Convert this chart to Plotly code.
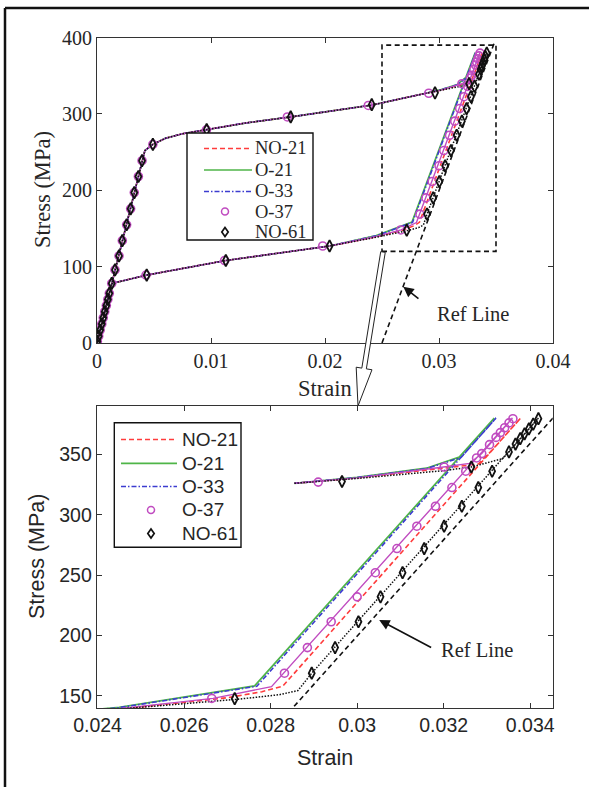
import plotly.graph_objects as go
import math

W, H = 589, 787

# ---------------- data ----------------
SERIES = ["NO-21", "O-21", "O-33", "O-37", "NO-61"]

# shared loading branch (elastic + upper plateau)
LOAD_COMMON_S = [0, 0.0042, 0.0049, 0.0060, 0.0075, 0.0096, 0.0130, 0.0170, 0.0205, 0.0241, 0.02855]
LOAD_COMMON_Y = [0, 252, 260, 268, 274, 279.3, 288, 296, 304, 311.5, 326]
# shared unloading tail (lower plateau + elastic return)
UNLOAD_COMMON_S = [0.0204, 0.0113, 0.0044, 0.0013, 0]
UNLOAD_COMMON_Y = [127, 108, 89, 78, 0]

NO21_LOAD_S = [0.0300, 0.0320, 0.0328, 0.03308, 0.03378]
NO21_LOAD_Y = [330.5, 338.5, 342, 352, 380]
NO21_UNLOAD_S = [0.03378, 0.02828, 0.0278, 0.0270, 0.0245]
NO21_UNLOAD_Y = [380, 158, 153.5, 148.5, 139]

O21_LOAD_S = [0.0300, 0.0316, 0.03236, 0.03317]
O21_LOAD_Y = [331, 338.5, 347.8, 380]
O21_UNLOAD_S = [0.03317, 0.02763, 0.0245]
O21_UNLOAD_Y = [380, 158.3, 140.6]

O33_LOAD_S = [0.0300, 0.0316, 0.03240, 0.03321]
O33_LOAD_Y = [330.8, 338.2, 347.3, 380]
O33_UNLOAD_S = [0.03321, 0.02768, 0.0245]
O33_UNLOAD_Y = [380, 158, 140.3]

O37_LOAD_S = [0.0300, 0.0320, 0.0326, 0.03288, 0.03359]
O37_LOAD_Y = [330.5, 339.5, 342.5, 350.6, 380]
O37_UNLOAD_S = [0.03359, 0.02802, 0.02667, 0.0245]
O37_UNLOAD_Y = [380, 157.7, 148, 139.5]

NO61_LOAD_S = [0.0300, 0.0320, 0.03264, 0.03336, 0.03351, 0.03419]
NO61_LOAD_Y = [330, 336.5, 339.5, 346.4, 352, 380]
NO61_UNLOAD_S = [0.03419, 0.02895, 0.02863, 0.0282, 0.02726, 0.0245]
NO61_UNLOAD_Y = [380, 168.8, 154.4, 151, 147.3, 138.5]

# marker positions
MK_ELASTIC_S = [0.00003, 0.00015, 0.00028, 0.00042, 0.00055, 0.00068, 0.00082, 0.00095, 0.00108,
                0.00129, 0.00158, 0.00193, 0.00222, 0.0026, 0.00295, 0.00327, 0.00363, 0.00395]
MK_ELASTIC_Y = [2, 9, 17, 25, 33, 41, 49, 57, 65, 78, 95.7, 114, 134, 154.8, 175.7, 197, 218, 238.7]

O37_MK_LOAD_S = [0.0049, 0.0096, 0.0167, 0.0238, 0.0291, 0.03201]
O37_MK_LOAD_Y = [260, 279, 296, 311, 327, 339.5]
O37_MK_UNLOAD_S = [0.03360, 0.03351, 0.03341, 0.03331, 0.03321, 0.03306, 0.03288, 0.03276, 0.03251,
                   0.03219, 0.03181, 0.03138, 0.03092, 0.03042, 0.0300, 0.0294, 0.02885, 0.02832,
                   0.02664, 0.0198, 0.0112, 0.0043]
O37_MK_UNLOAD_Y = [379.5, 376, 372, 368, 364, 358, 350.6, 347, 336, 322.5, 307, 290.5, 272, 252,
                   232, 211.4, 190, 168.8, 148, 127, 108, 89]

NO61_MK_LOAD_S = [0.0049, 0.00962, 0.01699, 0.0241, 0.02965, 0.03264]
NO61_MK_LOAD_Y = [260, 279.3, 296, 312, 327.5, 339.5]
NO61_MK_UNLOAD_S = [0.03419, 0.03407, 0.03397, 0.03387, 0.03377, 0.03366, 0.03351, 0.03312, 0.03280,
                    0.03242, 0.03201, 0.03155, 0.03105, 0.03054, 0.03003, 0.02949, 0.02895, 0.02717,
                    0.0204, 0.0113, 0.00436]
NO61_MK_UNLOAD_Y = [379.5, 375, 371, 367, 363, 358.5, 352, 336, 322.5, 307, 290.5, 272, 252, 232,
                    211.4, 190, 168.8, 147.7, 127, 108, 89]

REF_S = [0.025, 0.03485]
REF_Y = [0, 393]

ZOOM_BOX_S = [0.025, 0.035]
ZOOM_BOX_Y = [120, 390]
ZOOM_LOAD_FROM = 0.02855   # zoomed panel shows the loading branch only from here

TOP_XTICKS = [0, 0.01, 0.02, 0.03, 0.04]
TOP_XTICKTEXT = ["0", "0.01", "0.02", "0.03", "0.04"]
TOP_YTICKS = [0, 100, 200, 300, 400]
BOT_XTICKS = [0.024, 0.026, 0.028, 0.030, 0.032, 0.034]
BOT_XTICKTEXT = ["0.024", "0.026", "0.028", "0.03", "0.032", "0.034"]
BOT_YTICKS = [150, 200, 250, 300, 350]

# ---------------- styling ----------------
STYLE = {
    "NO-21": dict(color="#ff3c3c", dash="5px,3px", width=1.6),
    "O-21": dict(color="#4fb548", dash="solid", width=1.7),
    "O-33": dict(color="#3c3cd0", dash="5px,2px,1.5px,2px", width=1.6),
    "O-37": dict(color="#c04cc0", dash="solid", width=1.4),
    "NO-61": dict(color="#111111", dash="1.5px,1.5px", width=1.5),
}
PARTS = {
    "NO-21": (NO21_LOAD_S, NO21_LOAD_Y, NO21_UNLOAD_S, NO21_UNLOAD_Y),
    "O-21": (O21_LOAD_S, O21_LOAD_Y, O21_UNLOAD_S, O21_UNLOAD_Y),
    "O-33": (O33_LOAD_S, O33_LOAD_Y, O33_UNLOAD_S, O33_UNLOAD_Y),
    "O-37": (O37_LOAD_S, O37_LOAD_Y, O37_UNLOAD_S, O37_UNLOAD_Y),
    "NO-61": (NO61_LOAD_S, NO61_LOAD_Y, NO61_UNLOAD_S, NO61_UNLOAD_Y),
}
MARKERS = {
    "O-37": (MK_ELASTIC_S + O37_MK_LOAD_S, MK_ELASTIC_Y + O37_MK_LOAD_Y, O37_MK_UNLOAD_S, O37_MK_UNLOAD_Y,
             dict(symbol="circle-open", size=8, color="#c04cc0", line=dict(width=1.6, color="#c04cc0"))),
    "NO-61": (MK_ELASTIC_S + NO61_MK_LOAD_S, MK_ELASTIC_Y + NO61_MK_LOAD_Y, NO61_MK_UNLOAD_S, NO61_MK_UNLOAD_Y,
              dict(symbol="diamond-tall-open", size=8.5, color="#111111", line=dict(width=1.8, color="#111111"))),
}

SERIF = "Liberation Serif, Times New Roman, serif"
SANS = "Liberation Sans, Arial, sans-serif"
TXT = "#262626"


def px(x):
    return x / W


def py(y):
    return 1 - y / H


fig = go.Figure()

for name in SERIES:
    ls, ly, us, uy = PARTS[name]
    st = STYLE[name]
    line = dict(color=st["color"], dash=st["dash"], width=st["width"])
    # top panel: full loop
    xs = LOAD_COMMON_S + ls + us + UNLOAD_COMMON_S
    ys = LOAD_COMMON_Y + ly + uy + UNLOAD_COMMON_Y
    fig.add_trace(go.Scatter(x=xs, y=ys, mode="lines", line=line, xaxis="x", yaxis="y",
                             name=name, showlegend=False, hoverinfo="skip"))
    # zoomed panel: loading branch truncated
    ld = [(s, y) for s, y in zip(LOAD_COMMON_S + ls, LOAD_COMMON_Y + ly) if s >= ZOOM_LOAD_FROM]
    xs2 = [p[0] for p in ld] + us + UNLOAD_COMMON_S
    ys2 = [p[1] for p in ld] + uy + UNLOAD_COMMON_Y
    fig.add_trace(go.Scatter(x=xs2, y=ys2, mode="lines", line=line, xaxis="x2", yaxis="y2",
                             name=name, showlegend=False, hoverinfo="skip"))

for name in ["O-37", "NO-61"]:
    mls, mly, mus, muy, mk = MARKERS[name]
    fig.add_trace(go.Scatter(x=mls + mus, y=mly + muy, mode="markers", marker=mk, xaxis="x", yaxis="y",
                             name=name, showlegend=False, hoverinfo="skip"))
    zl = [(s, y) for s, y in zip(mls, mly) if s >= ZOOM_LOAD_FROM]
    fig.add_trace(go.Scatter(x=[p[0] for p in zl] + mus, y=[p[1] for p in zl] + muy, mode="markers",
                             marker=mk, xaxis="x2", yaxis="y2", name=name, showlegend=False,
                             hoverinfo="skip"))

# reference lines
for xa, ya in [("x", "y"), ("x2", "y2")]:
    fig.add_trace(go.Scatter(x=REF_S, y=REF_Y, mode="lines", xaxis=xa, yaxis=ya,
                             line=dict(color="#111111", dash="5px,3.5px", width=1.6),
                             showlegend=False, hoverinfo="skip"))

shapes = []
annotations = []

# zoom box in top panel
shapes.append(dict(type="rect", xref="x", yref="y", x0=ZOOM_BOX_S[0], x1=ZOOM_BOX_S[1],
                   y0=ZOOM_BOX_Y[0], y1=ZOOM_BOX_Y[1], line=dict(color="#111111", width=1.6, dash="5px,3.5px"),
                   layer="above"))

# hollow arrow from zoom box to lower panel
T = (383.0, 252.0)
P = (358.0, 406.0)
dx, dy = P[0] - T[0], P[1] - T[1]
L = math.hypot(dx, dy)
ux, uy_ = dx / L, dy / L
nx, ny = -uy_, ux
hw, hh, hl = 2.3, 8.0, 38.0
N = (P[0] - ux * hl, P[1] - uy_ * hl)
pts = [
    (T[0] + nx * hw, T[1] + ny * hw),
    (N[0] + nx * hw, N[1] + ny * hw),
    (N[0] + nx * hh, N[1] + ny * hh),
    P,
    (N[0] - nx * hh, N[1] - ny * hh),
    (N[0] - nx * hw, N[1] - ny * hw),
    (T[0] - nx * hw, T[1] - ny * hw),
]
path = "M " + " L ".join(f"{px(a):.5f},{py(b):.5f}" for a, b in pts) + " Z"
shapes.append(dict(type="path", xref="paper", yref="paper", path=path, fillcolor="white",
                   line=dict(color="#222222", width=1), layer="above"))

# outer frame
shapes.append(dict(type="line", xref="paper", yref="paper", x0=px(5), x1=px(5), y0=py(8), y1=py(787),
                   line=dict(color="#111111", width=2.5)))
shapes.append(dict(type="line", xref="paper", yref="paper", x0=px(5), x1=px(589), y0=py(8), y1=py(8),
                   line=dict(color="#111111", width=2.5)))


# manual legends
def legend(box, rows, line_x, mk_x, text_x, font, fsize):
    x0, y0, x1, y1 = box
    shapes.append(dict(type="rect", xref="paper", yref="paper", x0=px(x0), x1=px(x1), y0=py(y1), y1=py(y0),
                       fillcolor="white", line=dict(color="#111111", width=1.4), layer="above"))
    for name, yy in zip(SERIES, rows):
        st = STYLE[name]
        if name in ("O-37", "NO-61"):
            r = 3.5
            if name == "O-37":
                shapes.append(dict(type="circle", xref="paper", yref="paper", x0=px(mk_x - r), x1=px(mk_x + r),
                                   y0=py(yy + r), y1=py(yy - r), line=dict(color=st["color"], width=1.5),
                                   layer="above"))
            else:
                p = [(mk_x, yy - 4.5), (mk_x + 3.2, yy), (mk_x, yy + 4.5), (mk_x - 3.2, yy)]
                d = "M " + " L ".join(f"{px(a):.5f},{py(b):.5f}" for a, b in p) + " Z"
                shapes.append(dict(type="path", xref="paper", yref="paper", path=d,
                                   line=dict(color="#111111", width=1.7), layer="above"))
        else:
            shapes.append(dict(type="line", xref="paper", yref="paper", x0=px(line_x[0]), x1=px(line_x[1]),
                               y0=py(yy), y1=py(yy),
                               line=dict(color=st["color"], width=st["width"], dash=st["dash"]),
                               layer="above"))
        annotations.append(dict(xref="paper", yref="paper", x=px(text_x), y=py(yy), text=name,
                                showarrow=False, xanchor="left", yanchor="middle",
                                font=dict(family=font, size=fsize, color=TXT)))


legend((187, 133, 313, 240), [148.5, 170, 191.5, 211.5, 232], (204, 252), 225, 253, SERIF, 18.5)
legend((114.3, 422.7, 241, 547.3), [439.5, 463.3, 486.5, 510, 533.5], (121, 177), 151, 180, SANS, 19)

# axis titles
annotations += [
    dict(xref="paper", yref="paper", x=px(325), y=py(388), text="Strain", showarrow=False,
         font=dict(family=SERIF, size=22.5, color=TXT), xanchor="center", yanchor="middle"),
    dict(xref="paper", yref="paper", x=px(42), y=py(190), text="Stress (MPa)", showarrow=False, textangle=-90,
         font=dict(family=SERIF, size=22.5, color=TXT), xanchor="center", yanchor="middle"),
    dict(xref="paper", yref="paper", x=px(325), y=py(758), text="Strain", showarrow=False,
         font=dict(family=SANS, size=21.5, color=TXT), xanchor="center", yanchor="middle"),
    dict(xref="paper", yref="paper", x=px(37), y=py(557), text="Stress (MPa)", showarrow=False, textangle=-90,
         font=dict(family=SANS, size=21.5, color=TXT), xanchor="center", yanchor="middle"),
]

# "Ref Line" callouts
annotations += [
    dict(xref="x", yref="y", x=0.02687, y=73.8, axref="x", ayref="y", ax=0.02833, ay=56.4, text="",
         showarrow=True, arrowhead=2, arrowsize=1.3, arrowwidth=1.6, arrowcolor="#111111"),
    dict(xref="x", yref="y", x=0.03294, y=38, text="Ref Line", showarrow=False,
         font=dict(family=SERIF, size=20.5, color=TXT)),
    dict(xref="x2", yref="y2", x=0.03051, y=212.8, axref="x2", ayref="y2", ax=0.031745, ay=189.4, text="",
         showarrow=True, arrowhead=2, arrowsize=1.3, arrowwidth=1.6, arrowcolor="#111111"),
    dict(xref="x2", yref="y2", x=0.032775, y=188, text="Ref Line", showarrow=False,
         font=dict(family=SERIF, size=20.5, color=TXT)),
]

axis_common = dict(showgrid=False, zeroline=False, showline=True, linecolor="#333333", linewidth=1,
                   mirror="ticks", ticks="inside", ticklen=5, tickcolor="#333333", automargin=False)

fig.update_layout(
    template="none",
    width=W, height=H,
    margin=dict(l=0, r=0, t=0, b=0),
    paper_bgcolor="white", plot_bgcolor="white",
    showlegend=False,
    xaxis=dict(domain=[px(97), px(553)], range=[0, 0.04], tickvals=TOP_XTICKS, ticktext=TOP_XTICKTEXT,
               anchor="y", tickfont=dict(family=SERIF, size=20, color=TXT), **axis_common),
    yaxis=dict(domain=[py(343), py(37.5)], range=[0, 400], tickvals=TOP_YTICKS, anchor="x",
               tickfont=dict(family=SERIF, size=20, color=TXT), **axis_common),
    xaxis2=dict(domain=[px(96.7), px(552.7)], range=[0.02398, 0.03452], tickvals=BOT_XTICKS,
                ticktext=BOT_XTICKTEXT, anchor="y2", tickfont=dict(family=SANS, size=19.5, color=TXT),
                **axis_common),
    yaxis2=dict(domain=[py(708), py(406)], range=[140, 390], tickvals=BOT_YTICKS, anchor="x2",
                tickfont=dict(family=SANS, size=19.5, color=TXT), **axis_common),
    shapes=shapes,
    annotations=annotations,
)

fig.write_html("out.html", config={"displayModeBar": False},
               post_script="document.body.style.margin='0';document.body.style.overflow='hidden';")
